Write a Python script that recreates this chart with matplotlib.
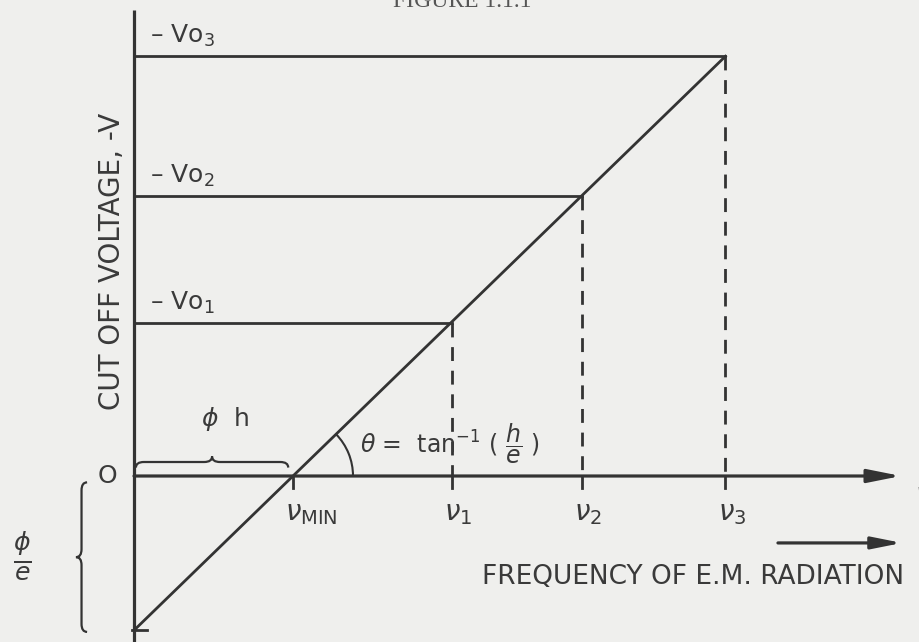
import numpy as np
import matplotlib
matplotlib.use('Agg')
import matplotlib.pyplot as plt
from matplotlib.path import Path
from matplotlib.patches import PathPatch, Arc

plt.rcParams['font.family'] = ['DejaVu Sans']
plt.rcParams['mathtext.fontset'] = 'dejavusans'

# values (arbitrary units, 1 unit = distance 0 -> nu_min)
nu_min = 1.0
nu = [2.0, 2.82, 3.72]              # nu_1, nu_2, nu_3
vo = [0.96, 1.76, 2.64]             # -Vo_1, -Vo_2, -Vo_3
nu_labels = [r'$\nu_{\mathrm{MIN}}$', r'$\nu_1$', r'$\nu_2$', r'$\nu_3$']
vo_labels = [r'– Vo$_1$', r'– Vo$_2$', r'– Vo$_3$']

ink = '#333333'
txt = '#3a3a3a'
bg = '#efefed'
fs = 18

slope = vo[-1] / (nu[-1] - nu_min)
phi_e = slope * nu_min             # intercept on the voltage axis

fig = plt.figure(figsize=(9.2, 6.42), dpi=100, facecolor=bg)
ax = fig.add_axes([0, 0, 1, 1])
ax.set_facecolor(bg)
ppu = 159.0   # pixels per unit
ax.set_xlim(-134 / ppu, 786 / ppu)
ax.set_ylim(-166 / ppu, 476 / ppu)
ax.set_aspect('equal')
ax.axis('off')

# axes
ax.plot([0, 0], [-1.1, 466 / ppu], color=ink, lw=2.3, solid_capstyle='butt')
ax.annotate('', xy=(767 / ppu, 0), xytext=(0, 0),
            arrowprops=dict(arrowstyle='-|>,head_length=1.0,head_width=0.2',
                            color=ink, lw=2.3, mutation_scale=20,
                            shrinkA=0, shrinkB=0))
ax.plot([-0.015, 0.08], [-phi_e, -phi_e], color=ink, lw=2)

# the straight line V = (h/e)(nu - nu_min)
xs = np.array([0, nu[-1]])
ax.plot(xs, slope * (xs - nu_min), color=ink, lw=2)

# horizontal levels and dashed drops
for n, v in zip(nu, vo):
    ax.plot([0, n], [v, v], color=ink, lw=2)
    ax.plot([n, n], [v, 0], color=ink, lw=2, ls=(0, (5, 3.5)))

# ticks on frequency axis
for n in [nu_min] + nu:
    ax.plot([n, n], [0, -0.075], color=ink, lw=2)

# tick labels
for n, lab in zip([nu_min] + nu, nu_labels):
    ax.text(n - 0.05, -0.28, lab, fontsize=fs + 2, color=txt,
            ha='left', va='baseline')
for v, lab in zip(vo, vo_labels):
    ax.text(0.1, v + 0.085, lab, fontsize=fs, color=txt,
            ha='left', va='baseline')
ax.text(-0.165, 0, 'O', fontsize=fs, color=txt, ha='center', va='center')

# angle
theta = np.degrees(np.arctan(slope))
ax.add_patch(Arc((nu_min, 0), 2 * 60 / ppu, 2 * 60 / ppu, theta1=0,
                 theta2=theta, color=ink, lw=1.5))
ax.text(1.42, 0.145, r'$\theta$ =  tan$^{-1}$ ( $\dfrac{h}{e}$ )',
        fontsize=fs - 1, color=txt, ha='left', va='baseline')


def brace(a0, a1, c0, d, r, horizontal=True, sign=1):
    # a: along the brace, c: across it; sign sets the side of the tip
    am = (a0 + a1) / 2
    r = r * np.sign(a1 - a0)
    pts = [(a0, c0 - sign * d), (a0, c0), (a0 + r, c0),
           (am - r, c0), (am, c0), (am, c0 + sign * d),
           (am, c0), (am + r, c0),
           (a1 - r, c0), (a1, c0), (a1, c0 - sign * d)]
    codes = [Path.MOVETO, Path.CURVE3, Path.CURVE3,
             Path.LINETO, Path.CURVE3, Path.CURVE3,
             Path.CURVE3, Path.CURVE3,
             Path.LINETO, Path.CURVE3, Path.CURVE3]
    if not horizontal:
        pts = [(c, a) for a, c in pts]
    ax.add_patch(PathPatch(Path(pts, codes), fill=False, color=ink, lw=1.6))


# phi h brace above the axis
brace(0.012, nu_min - 0.03, 0.088, 0.035, 0.05, horizontal=True, sign=1)
ax.text(0.57, 0.36, r'$\phi$  h', fontsize=fs, color=txt,
        ha='center', va='center')
# phi/e brace left of the axis
brace(-0.04, -phi_e - 0.01, -0.33, 0.035, 0.05, horizontal=False, sign=-1)
ax.text(-0.70, -0.50, r'$\frac{\phi}{e}$', fontsize=fs + 8, color=txt,
        ha='center', va='center')

# axis titles
ax.text(-0.14, 1.35, 'CUT OFF VOLTAGE, -V', fontsize=fs + 2, color=txt,
        rotation=90, ha='center', va='center')
ax.text(4.843, -0.635, 'FREQUENCY OF E.M. RADIATION', fontsize=fs + 1,
        color=txt, ha='right', va='center')
ax.annotate('', xy=(4.83, -0.421), xytext=(4.05, -0.421),
            arrowprops=dict(arrowstyle='-|>,head_length=1.0,head_width=0.2',
                            color=ink, lw=2.3, mutation_scale=18,
                            shrinkA=0, shrinkB=0))
ax.text(4.915, -0.12, r'$\nu$', fontsize=fs + 3, color=txt,
        ha='left', va='center')
ax.text(2.063, 2.95, 'FIGURE 1.1.1', fontsize=17, color='#555555',
        family='Liberation Serif', ha='center', va='baseline')

fig.savefig('out.png', dpi=100, facecolor=bg)
